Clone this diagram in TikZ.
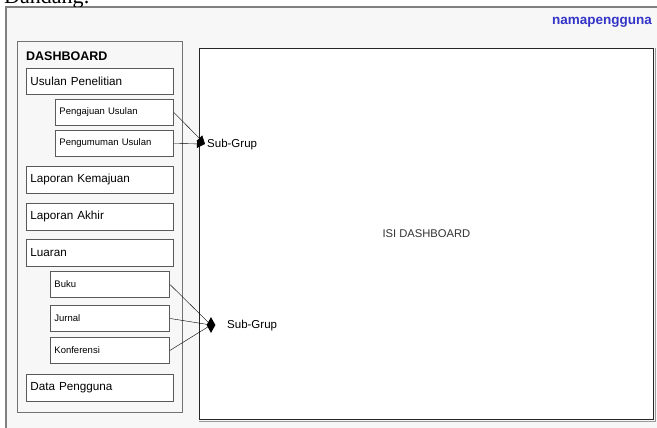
\documentclass[tikz,border=0pt]{standalone}
\usepackage{fontspec}
\setmainfont{Liberation Sans}
\newfontfamily\headfont{Liberation Serif}
\usepackage{tikz}
\usetikzlibrary{arrows.meta,shapes.geometric,positioning}
\definecolor{bgpage}{HTML}{F7F7F7}
\definecolor{boxline}{HTML}{5A5A5A}
\definecolor{namablue}{HTML}{3434C8}

\begin{document}
\begin{tikzpicture}[x=1pt,y=-1pt,
  menu/.style={draw=boxline,fill=white,line width=0.9pt,anchor=north west,
    minimum height=26.5pt,inner xsep=4pt,text width=#1,align=left,
    font=\fontsize{11.7}{13}\selectfont},
  submenu/.style={menu=#1,minimum height=26pt,font=\fontsize{9.5}{11}\selectfont},
  subgrup/.style={anchor=west,inner sep=1pt,font=\fontsize{11.5}{13}\selectfont}]
\useasboundingbox (0,0) rectangle (657,428);

% page frame
\fill[bgpage] (6,7) rectangle (657,428);
\draw[black!50,line width=1.2pt] (6,428) -- (6,7) -- (657,7);
\begin{scope}
  \clip (0,0) rectangle (657,6.4);
  \node[anchor=base west,inner sep=0pt,font=\headfont\fontsize{22}{24}\selectfont] (judul) at (4,4) {Dandang:};
\end{scope}

\node[anchor=east,inner sep=0pt,text=namablue,font=\bfseries\fontsize{13.5}{15}\selectfont] (nama) at (652,22) {namapengguna};

% isi
\node[draw=black!85,fill=white,line width=0.9pt,anchor=north west,minimum width=454pt,minimum height=371pt,
  text=black!80,font=\fontsize{11.2}{13}\selectfont] (isi) at (199,48) {ISI DASHBOARD};
\draw[black!40,line width=1.4pt] ([shift={(1.3,0)}]isi.north east) |- ([shift={(0,1.3)}]isi.south west);

% sidebar
\node[draw=black!55,fill=bgpage,line width=1pt,anchor=north west,minimum width=165pt,minimum height=371pt] (sidebar) at (17,41) {};
\node[anchor=west,inner sep=0pt,font=\bfseries\fontsize{12.5}{14}\selectfont] (judulmenu) at (26,56) {DASHBOARD};

\node[menu=139pt] (usulan) at (26,68) {Usulan Penelitian};
\node[submenu=110pt] (pengajuan) at (55,99) {Pengajuan Usulan};
\node[submenu=110pt] (pengumuman) at (55,130) {Pengumuman Usulan};
\node[menu=139pt] (kemajuan) at (26,166) {Laporan Kemajuan};
\node[menu=139pt] (akhir) at (26,203) {Laporan Akhir};
\node[menu=139pt] (luaran) at (26,239) {Luaran};
\node[submenu=111pt] (buku) at (50,271) {Buku};
\node[submenu=111pt] (jurnal) at (50,305) {Jurnal};
\node[submenu=111pt] (konferensi) at (50,337) {Konferensi};
\node[menu=139pt] (pengguna) at (26,374) {Data Pengguna};

% sub-grup usulan
\coordinate (sg1) at (205,144);
\draw[-{Triangle[length=8pt,width=8pt]}] (pengajuan.east) -- (sg1);
\draw[-{Triangle[length=8pt,width=8pt]}] (pengumuman.east) -- (sg1);
\node[subgrup] (subgrup1) at (206,145) {Sub-Grup};

% sub-grup luaran
\node[diamond,fill=black,inner sep=0pt,minimum width=9pt,minimum height=16pt] (sg2) at (211,325) {};
\draw (buku.east) -- (sg2.center);
\draw (jurnal.east) -- (sg2.center);
\draw (konferensi.east) -- (sg2.center);
\node[subgrup] (subgrup2) at (226,326) {Sub-Grup};
\end{tikzpicture}
\end{document}
